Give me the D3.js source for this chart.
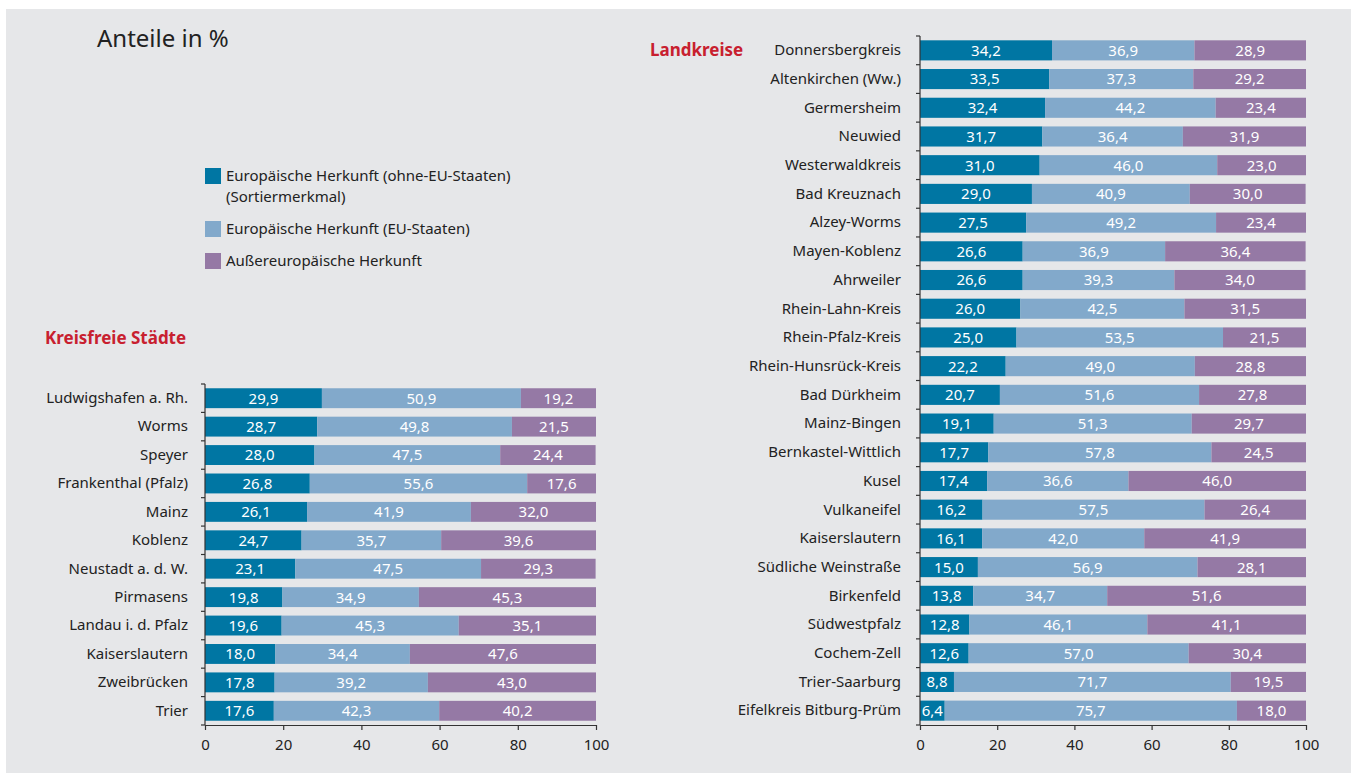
<!DOCTYPE html>
<html>
<head>
<meta charset="utf-8">
<script src="https://cdn.jsdelivr.net/npm/d3@7"></script>
<style>
  body { margin: 0; background: #fff; }
  svg text { font-family: "Noto Sans", sans-serif; fill: #222; }
</style>
</head>
<body>
<svg id="chart" width="1351" height="773"></svg>
<script>
// series names, used in the legend
var seriesNames = [
  ["Europäische Herkunft (ohne-EU-Staaten)", "(Sortiermerkmal)"],
  ["Europäische Herkunft (EU-Staaten)"],
  ["Außereuropäische Herkunft"]
];
var colors = ["#0076a3", "#82a9cb", "#9579a5"];

// Kreisfreie Städte
var cities = ["Ludwigshafen a. Rh.", "Worms", "Speyer", "Frankenthal (Pfalz)", "Mainz", "Koblenz",
  "Neustadt a. d. W.", "Pirmasens", "Landau i. d. Pfalz", "Kaiserslautern", "Zweibrücken", "Trier"];
var citiesNonEU = [29.9, 28.7, 28.0, 26.8, 26.1, 24.7, 23.1, 19.8, 19.6, 18.0, 17.8, 17.6];
var citiesEU    = [50.9, 49.8, 47.5, 55.6, 41.9, 35.7, 47.5, 34.9, 45.3, 34.4, 39.2, 42.3];
var citiesOut   = [19.2, 21.5, 24.4, 17.6, 32.0, 39.6, 29.3, 45.3, 35.1, 47.6, 43.0, 40.2];

// Landkreise
var districts = ["Donnersbergkreis", "Altenkirchen (Ww.)", "Germersheim", "Neuwied", "Westerwaldkreis",
  "Bad Kreuznach", "Alzey-Worms", "Mayen-Koblenz", "Ahrweiler", "Rhein-Lahn-Kreis", "Rhein-Pfalz-Kreis",
  "Rhein-Hunsrück-Kreis", "Bad Dürkheim", "Mainz-Bingen", "Bernkastel-Wittlich", "Kusel", "Vulkaneifel",
  "Kaiserslautern", "Südliche Weinstraße", "Birkenfeld", "Südwestpfalz", "Cochem-Zell", "Trier-Saarburg",
  "Eifelkreis Bitburg-Prüm"];
var distNonEU = [34.2, 33.5, 32.4, 31.7, 31.0, 29.0, 27.5, 26.6, 26.6, 26.0, 25.0, 22.2, 20.7, 19.1, 17.7,
  17.4, 16.2, 16.1, 15.0, 13.8, 12.8, 12.6, 8.8, 6.4];
var distEU    = [36.9, 37.3, 44.2, 36.4, 46.0, 40.9, 49.2, 36.9, 39.3, 42.5, 53.5, 49.0, 51.6, 51.3, 57.8,
  36.6, 57.5, 42.0, 56.9, 34.7, 46.1, 57.0, 71.7, 75.7];
var distOut   = [28.9, 29.2, 23.4, 31.9, 23.0, 30.0, 23.4, 36.4, 34.0, 31.5, 21.5, 28.8, 27.8, 29.7, 24.5,
  46.0, 26.4, 41.9, 28.1, 51.6, 41.1, 30.4, 19.5, 18.0];

var xTicks = [0, 20, 40, 60, 80, 100];
var fmt = function(v) { return d3.format(".1f")(v).replace(".", ","); };
var FS = 15;

var svg = d3.select("#chart");

// background panel
svg.append("rect").attr("x", 6).attr("y", 9).attr("width", 1345).attr("height", 764).attr("fill", "#e6e7e9");

svg.append("text").attr("x", 97).attr("y", 47).attr("font-size", 24).text("Anteile in %");

// legend
var legY = [168, 221, 253];
seriesNames.forEach(function(lines, i) {
  svg.append("rect").attr("x", 205).attr("y", legY[i]).attr("width", 16).attr("height", 16).attr("fill", colors[i]);
  lines.forEach(function(l, j) {
    svg.append("text").attr("x", 226).attr("y", legY[i] + 13 + j * 21).attr("font-size", FS).text(l);
  });
});

function drawChart(opts) {
  var rows = opts.names.map(function(n, i) {
    return { name: n, v: [opts.a[i], opts.b[i], opts.c[i]] };
  });
  var x = d3.scaleLinear().domain([0, 100]).range([opts.x0, opts.x1]);
  var y = d3.scaleBand().domain(opts.names).range([opts.y0, opts.y1]).paddingInner(0.3).paddingOuter(0.15);
  var g = svg.append("g");

  var row = g.selectAll("g.row").data(rows).enter().append("g").attr("class", "row");
  row.each(function(d) {
    var sel = d3.select(this), acc = 0;
    d.v.forEach(function(v, k) {
      var s = acc; acc += v;
      sel.append("rect")
        .attr("x", x(s)).attr("y", y(d.name))
        .attr("width", x(Math.min(acc, 100)) - x(s)).attr("height", y.bandwidth())
        .attr("fill", colors[k]);
      sel.append("text")
        .attr("x", x((s + Math.min(acc, 100)) / 2)).attr("y", y(d.name) + y.bandwidth() / 2)
        .attr("dy", "0.36em").attr("text-anchor", "middle").attr("font-size", FS)
        .style("fill", "#fff").text(fmt(v));
    });
  });

  // y axis: labels at band centres, ticks at band boundaries
  var yAxis = g.append("g").attr("transform", "translate(" + opts.x0 + ",0)")
    .call(d3.axisLeft(y).tickSize(0).tickPadding(opts.pad));
  yAxis.select(".domain").remove();
  yAxis.selectAll("text").attr("font-size", FS).style("font-family", '"Noto Sans", sans-serif').style("fill", "#222");
  var bounds = opts.names.map(function(n) { return y(n) - y.step() * 0.15; });
  bounds.push(opts.y1);
  g.selectAll("line.bt").data(bounds).enter().append("line")
    .attr("x1", opts.x0 - 4).attr("x2", opts.x0).attr("y1", function(d) { return d; }).attr("y2", function(d) { return d; })
    .attr("stroke", "#333").attr("stroke-width", 1.2);
  g.append("line").attr("x1", opts.x0).attr("x2", opts.x0).attr("y1", opts.y0).attr("y2", opts.y1)
    .attr("stroke", "#333").attr("stroke-width", 1.2);

  // x axis
  var xAxis = g.append("g").attr("transform", "translate(0," + opts.y1 + ")")
    .call(d3.axisBottom(x).tickValues(xTicks).tickSize(5).tickSizeOuter(0).tickPadding(9));
  xAxis.selectAll("line").attr("stroke", "#333").attr("stroke-width", 1.2);
  xAxis.select(".domain").attr("stroke", "#333").attr("stroke-width", 1.2);
  xAxis.selectAll("text").attr("font-size", FS).style("font-family", '"Noto Sans", sans-serif').style("fill", "#222");
}

drawChart({ names: cities, a: citiesNonEU, b: citiesEU, c: citiesOut,
  x0: 205, x1: 596, y0: 384, y1: 725, pad: 17 });
drawChart({ names: districts, a: distNonEU, b: distEU, c: distOut,
  x0: 920, x1: 1306, y0: 36, y1: 725, pad: 19 });

svg.append("text").attr("x", 45).attr("y", 344).attr("font-size", 17).attr("font-weight", "bold")
  .style("fill", "#c8202f").text("Kreisfreie Städte");
svg.append("text").attr("x", 650).attr("y", 56).attr("font-size", 17).attr("font-weight", "bold")
  .style("fill", "#c8202f").text("Landkreise");
</script>
</body>
</html>
